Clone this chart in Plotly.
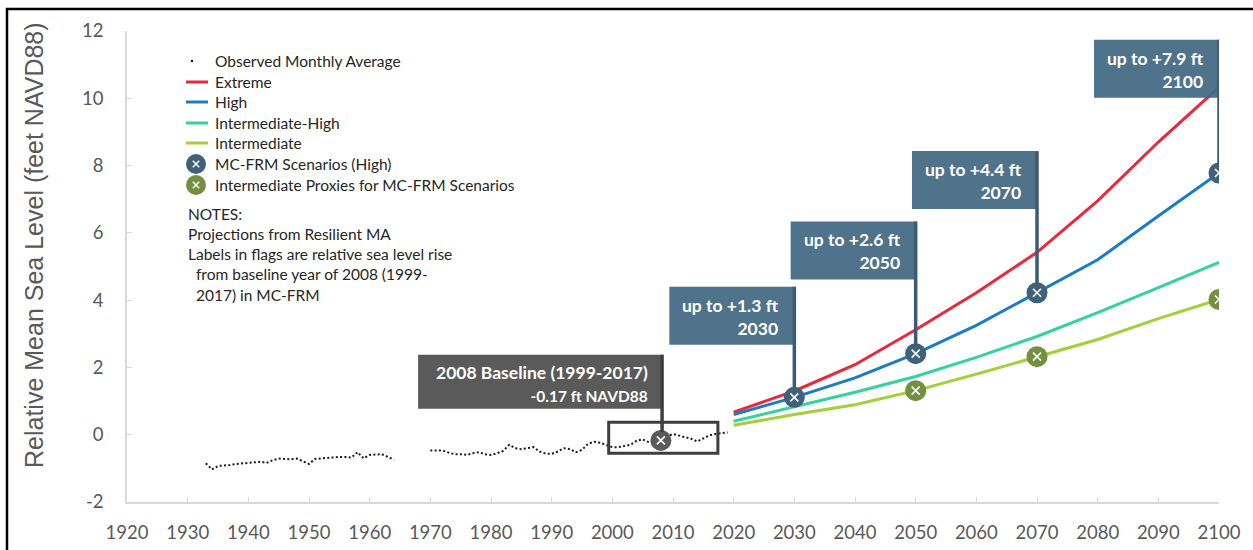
import plotly.graph_objects as go

# ---------------- data ----------------
obs_years = list(range(1933, 2020))
obs_values = [
    -0.85, -1.03, -0.93, -0.92, -0.90, -0.87, -0.86, -0.84, -0.82, -0.80,
    -0.84, -0.76, -0.71, -0.72, -0.73, -0.71, -0.80, -0.87, -0.72, -0.70,
    -0.70, -0.68, -0.66, -0.66, -0.68, -0.52, -0.70, -0.60, -0.58, -0.58,
    -0.66, -0.74,
    None, None, None, None, None,
    -0.47, -0.47, -0.47, -0.53, -0.58, -0.58, -0.60, -0.55, -0.52, -0.58,
    -0.60, -0.55, -0.48, -0.30, -0.40, -0.43, -0.40, -0.37, -0.50, -0.56,
    -0.57, -0.50, -0.40, -0.43, -0.52, -0.45, -0.27, -0.21, -0.24, -0.30,
    -0.37, -0.37, -0.34, -0.30, -0.18, -0.14, -0.22, -0.27, -0.20, -0.05,
    0.02, -0.02, -0.07, -0.12, -0.20, -0.10, -0.02, 0.02, 0.05, 0.07,
]

proj_years = [2020, 2030, 2040, 2050, 2060, 2070, 2080, 2090, 2100]
extreme = [0.67, 1.30, 2.08, 3.12, 4.22, 5.42, 6.95, 8.70, 10.33]
high = [0.60, 1.11, 1.69, 2.41, 3.25, 4.22, 5.20, 6.50, 7.78]
int_high = [0.40, 0.84, 1.26, 1.73, 2.30, 2.92, 3.63, 4.37, 5.12]
intermediate = [0.28, 0.60, 0.89, 1.31, 1.80, 2.32, 2.83, 3.45, 4.02]

mcfrm_years = [2030, 2050, 2070, 2100]
mcfrm_values = [1.11, 2.41, 4.22, 7.78]
proxy_years = [2050, 2070, 2100]
proxy_values = [1.31, 2.32, 4.02]

flag_years = [2030, 2050, 2070, 2100]
flag_rise = ["up to +1.3 ft", "up to +2.6 ft", "up to +4.4 ft", "up to +7.9 ft"]

baseline_year = 2008
baseline_value = -0.17
baseline_window = [1999, 2017]
baseline_title = "2008 Baseline (1999-2017)"
baseline_label = "-0.17 ft NAVD88"

x_ticks = list(range(1920, 2101, 10))
y_ticks = [-2, 0, 2, 4, 6, 8, 10, 12]
y_tick_text = ["-2", "0", "2", "4", "6", "8", "10", "12"]

legend_names = ["Observed Monthly Average", "Extreme", "High", "Intermediate-High",
                "Intermediate", "MC-FRM Scenarios (High)",
                "Intermediate Proxies for MC-FRM Scenarios"]
notes_lines = ["NOTES:", "Projections from Resilient MA",
               "Labels in flags are relative sea level rise",
               "\u00a0\u00a0from baseline year of 2008 (1999-",
               "\u00a0\u00a02017) in MC-FRM"]

# ---------------- layout constants ----------------
W, H = 1253, 550
ML, MT = 127, 31
MR = W - 1219
MB = H - 502
PW, PH = W - ML - MR, H - MT - MB
X0, X1 = 1920, 2100
Y0, Y1 = -2, 12
PX_PER_YR = PW / (X1 - X0)
PX_PER_FT = PH / (Y1 - Y0)


def px_x(sx):  # screen pixel -> paper x
    return (sx - ML) / PW


def px_y(sy):  # screen pixel -> paper y
    return (H - MB - sy) / PH


FONT = "Lato"
TICK_COLOR = "#595959"
TEXT_COLOR = "#262626"
FLAG_BLUE = "#466C84"
POLE_BLUE = "#3B5B70"
MARK_BLUE = "#3F6179"
MARK_GREEN = "#748F3F"
GRAY_FLAG = "#5A5A5A"
C_EXT, C_HIGH, C_IH, C_INT = "#E9283C", "#1A7CC6", "#33D39B", "#A2CF3B"

flag_tops = [4.40, 6.34, 8.43, 11.74]
flag_w = 125 / PX_PER_YR
flag_h = 58 / PX_PER_FT
base_top = 2.38
base_w = 244 / PX_PER_YR
base_h = 54 / PX_PER_FT

fig = go.Figure()

for vals, col in [(extreme, C_EXT), (high, C_HIGH), (int_high, C_IH), (intermediate, C_INT)]:
    fig.add_trace(go.Scatter(x=proj_years, y=vals, mode="lines", showlegend=False,
                             line=dict(color=col, width=3)))

# observed line
fig.add_trace(go.Scatter(x=obs_years, y=obs_values, mode="lines", showlegend=False,
                         connectgaps=False,
                         line=dict(color="#1A1A1A", width=2, dash="2px,2.3px")))

shapes = []
annotations = []

# flags
for yr, top, txt, val in zip(flag_years, flag_tops, flag_rise, mcfrm_values):
    shapes.append(dict(type="rect", xref="x", yref="y", x0=yr - flag_w, x1=yr,
                       y0=top - flag_h, y1=top, fillcolor=FLAG_BLUE, opacity=0.95,
                       line=dict(width=0), layer="above"))
    shapes.append(dict(type="line", xref="x", yref="y", x0=yr, x1=yr,
                       y0=top, y1=val + 0.25, line=dict(color=POLE_BLUE, width=3.5),
                       layer="above"))
    annotations.append(dict(x=yr, y=top, xref="x", yref="y", xanchor="right",
                            yanchor="top", xshift=-13, yshift=-6, showarrow=False,
                            align="right", text=f"<b>{txt}<br>{yr}</b>",
                            font=dict(family=FONT, size=17.5, color="white")))

# baseline flag
shapes.append(dict(type="rect", xref="x", yref="y", x0=baseline_year + 0.2 - base_w,
                   x1=baseline_year + 0.2, y0=base_top - base_h, y1=base_top,
                   fillcolor=GRAY_FLAG, line=dict(width=0), layer="above"))
shapes.append(dict(type="line", xref="x", yref="y", x0=baseline_year + 0.2,
                   x1=baseline_year + 0.2, y0=base_top, y1=baseline_value + 0.25,
                   line=dict(color="#404040", width=3.5), layer="above"))
shapes.append(dict(type="rect", xref="x", yref="y", x0=baseline_window[0] + 0.4,
                   x1=baseline_window[1] + 0.4, y0=-0.55, y1=0.37,
                   line=dict(color="#3E3E3E", width=3), layer="above"))
annotations.append(dict(x=baseline_year + 0.2, y=base_top, xref="x", yref="y",
                        xanchor="right", yanchor="top", xshift=-12, yshift=-5,
                        showarrow=False, align="right",
                        text=f"<b>{baseline_title}</b><br><b><span style='font-size:15.5px'>{baseline_label}</span></b>",
                        font=dict(family=FONT, size=17.5, color="white")))

# markers
fig.add_trace(go.Scatter(x=mcfrm_years, y=mcfrm_values, mode="markers", showlegend=False,
                         marker=dict(size=21, color=MARK_BLUE, line=dict(width=0))))
fig.add_trace(go.Scatter(x=proxy_years, y=proxy_values, mode="markers", showlegend=False,
                         marker=dict(size=21, color=MARK_GREEN, line=dict(width=0))))
fig.add_trace(go.Scatter(x=[baseline_year], y=[baseline_value], mode="markers",
                         showlegend=False,
                         marker=dict(size=21, color="#5A5A5A", line=dict(width=0))))
fig.add_trace(go.Scatter(x=mcfrm_years + proxy_years + [baseline_year],
                         y=mcfrm_values + proxy_values + [baseline_value],
                         mode="markers", showlegend=False, hoverinfo="skip",
                         marker=dict(symbol="x-thin", size=8,
                                     line=dict(color="white", width=1.6))))

# ---------------- manual legend ----------------
leg_rows = [61, 82, 102, 123, 143, 164, 185]
leg_text_x = 213
leg_kinds = [("dot", "#1A1A1A"), ("line", C_EXT), ("line", C_HIGH), ("line", C_IH),
             ("line", C_INT), ("circle", MARK_BLUE), ("circle", MARK_GREEN)]
for (kind, col), row, name in zip(leg_kinds, leg_rows, legend_names):
    if kind == "line":
        shapes.append(dict(type="line", xref="paper", yref="paper",
                           x0=px_x(186), x1=px_x(208), y0=px_y(row), y1=px_y(row),
                           line=dict(color=col, width=3)))
    else:
        r = 1.3 if kind == "dot" else 10
        cx = 192 if kind == "dot" else 196
        shapes.append(dict(type="circle", xref="paper", yref="paper",
                           xsizemode="pixel", ysizemode="pixel",
                           xanchor=px_x(cx), yanchor=px_y(row),
                           x0=-r, x1=r, y0=-r, y1=r,
                           fillcolor=col, line=dict(width=0)))
        if kind == "circle":
            for s in (1, -1):
                shapes.append(dict(type="line", xref="paper", yref="paper",
                                   xsizemode="pixel", ysizemode="pixel",
                                   xanchor=px_x(cx), yanchor=px_y(row),
                                   x0=-3.2, x1=3.2, y0=-3.2 * s, y1=3.2 * s,
                                   line=dict(color="white", width=1.5)))
    annotations.append(dict(x=px_x(leg_text_x), y=px_y(row), xref="paper", yref="paper",
                            xanchor="left", yanchor="middle", showarrow=False,
                            text=name, font=dict(family=FONT, size=15.5, color=TEXT_COLOR)))

# notes
annotations.append(dict(x=px_x(186), y=px_y(203), xref="paper", yref="paper",
                        xanchor="left", yanchor="top", showarrow=False, align="left",
                        text="<br>".join(notes_lines),
                        font=dict(family=FONT, size=15.5, color=TEXT_COLOR)))
# y axis title
annotations.append(dict(x=px_x(34), y=px_y(245), xref="paper", yref="paper",
                        xanchor="center", yanchor="middle", showarrow=False,
                        textangle=-90, text="Relative Mean Sea Level (feet NAVD88)",
                        font=dict(family="Liberation Sans", size=25, color=TICK_COLOR)))

# outer frame (top + left)
shapes.append(dict(type="line", xref="paper", yref="paper", x0=px_x(6), x1=px_x(1260),
                   y0=px_y(9), y1=px_y(9), line=dict(color="black", width=2.5)))
shapes.append(dict(type="line", xref="paper", yref="paper", x0=px_x(7),
                   x1=px_x(7), y0=px_y(8), y1=px_y(560),
                   line=dict(color="black", width=2.5)))

axis_common = dict(showgrid=False, zeroline=False, showline=True, linecolor="#D9D9D9",
                   linewidth=1.5, ticks="inside", ticklen=5, tickcolor="#D9D9D9",
                   tickwidth=1, automargin=False,
                   tickfont=dict(family=FONT, size=18.5, color=TICK_COLOR))

fig.update_layout(
    width=W, height=H,
    margin=dict(l=ML, r=MR, t=MT, b=MB, autoexpand=False),
    plot_bgcolor="white", paper_bgcolor="white",
    xaxis=dict(range=[X0, X1], tickvals=x_ticks, ticklabelstandoff=13, **axis_common),
    yaxis=dict(range=[Y0, Y1], tickvals=y_ticks, ticktext=y_tick_text,
               ticklabelstandoff=18, **axis_common),
    shapes=shapes,
    annotations=annotations,
    showlegend=False,
)

fig.write_html("out.html", config={"displayModeBar": False},
               post_script="document.body.style.margin='0';document.body.style.overflow='hidden';")
